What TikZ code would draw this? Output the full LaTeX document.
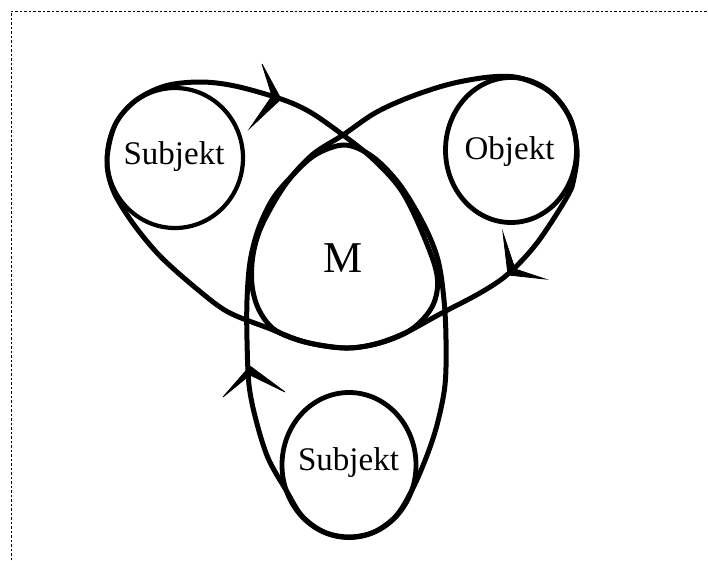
\documentclass[tikz,border=0pt]{standalone}
\usepackage{fontspec}
\setmainfont{Liberation Serif}
\usetikzlibrary{shapes.geometric}
\tikzset{
  ring/.style={draw, ellipse, line width=4.2pt, inner sep=0pt},
  lbl/.style={font=\fontsize{33}{38}\selectfont, inner sep=0pt},
  bigl/.style={font=\fontsize{44}{50}\selectfont, inner sep=0pt},
  loopln/.style={line width=5pt, line join=round, line cap=round},
  tiphead/.style={fill=black, draw=black, line width=0.8pt, line join=miter},
  framel/.style={line width=0.9pt, dash pattern=on 2.5pt off 2pt}
}
\begin{document}
\begin{tikzpicture}[x=1pt, y=-1pt]
\useasboundingbox (0,0) rectangle (708,560);
% dotted frame
\draw[framel] (11,560) -- (11,11) -- (708,11);

% loop 1 (left Subjekt)
\draw[loopln] plot[smooth cycle, tension=0.55] coordinates {
  (107,160) (115,125) (135,101) (165,86) (200,82) (235,86) (281,99)
  (310,112) (343,135) (373,159) (401,190) (422,232) (437,275) (433,305)
  (412,329) (380,343) (345,348) (305,342) (268,328) (228,312) (197,289)
  (160,256) (132,222) (113,190)};

% loop 2 (Objekt)
\draw[loopln] plot[smooth cycle, tension=0.55] coordinates {
  (567,197) (537,243) (508,274) (480,293) (440,314) (405,333) (375,344)
  (345,348) (305,342) (275,330) (259,310) (252,285) (253,255) (262,225)
  (285,185) (312,155) (343,135) (375,113) (410,97) (450,84) (490,77)
  (520,78) (550,92) (570,118) (577,150) (574,178)};

% loop 3 (bottom Subjekt, around M)
\draw[loopln] plot[smooth cycle, tension=0.55] coordinates {
  (286,490) (268,458) (256,420) (249,385) (247,340) (247,300) (250,262)
  (258,230) (272,200) (290,178) (315,155) (345,145) (373,157) (400,185)
  (424,225) (438,260) (444,300) (446,340) (445,385) (437,425) (426,458)
  (412,490) (396,516) (374,532) (349,537) (324,532) (302,516)};

% arrow heads
\fill[tiphead] (262,64) -- (281,99) -- (250,128) -- (272,96) -- cycle;
\fill[tiphead] (503,233) -- (508,275) -- (545,279) -- (515,269) -- cycle;
\fill[tiphead] (223,397) -- (250,366) -- (285,392) -- (250,375) -- cycle;

% circles
\node[ring, minimum width=136pt, minimum height=140pt] (subjL) at (175,158) {};
\node[ring, line width=4.8pt, minimum width=131pt, minimum height=145pt] (obj) at (511,150) {};
\node[ring, line width=4.8pt, minimum width=134pt, minimum height=145pt] (subjB) at (349,465) {};

% labels
\node[lbl] (subjLt) at (174,157) {Subjekt};
\node[lbl] (objt) at (509.5,152) {Objekt};
\node[lbl] (subjBt) at (348.5,463) {Subjekt};
\node[bigl] (mt) at (343.5,258) {M};
\end{tikzpicture}
\end{document}
